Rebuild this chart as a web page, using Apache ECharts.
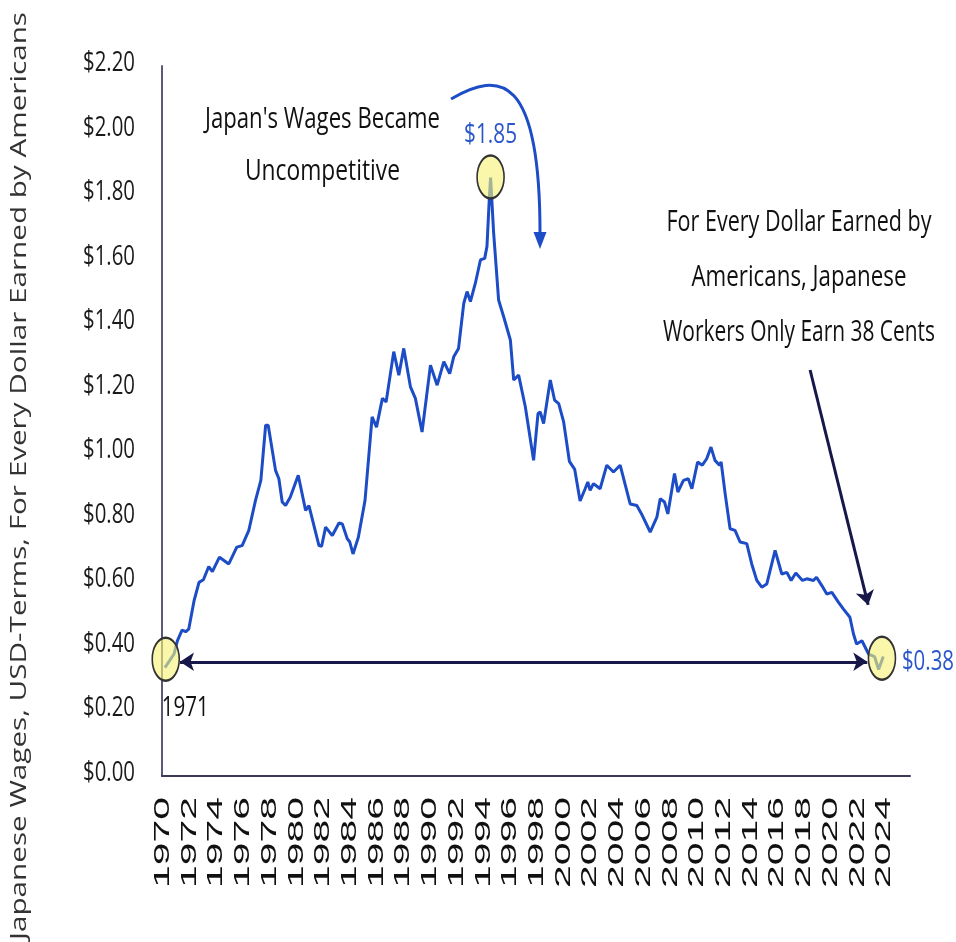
<!DOCTYPE html>
<html><head><meta charset="utf-8">
<script src="https://cdn.jsdelivr.net/npm/echarts@6/dist/echarts.min.js"></script>
<style>html,body{margin:0;padding:0;background:#fff}#c{width:956px;height:942px}</style>
</head><body><div id="c"></div>
<script>
// ---- data (decimal year, USD earned per US dollar) ----
const years = [
 1970.22,1970.9,1971.15,1971.5,1971.77,1972.0,1972.4,1972.77,1973.1,1973.5,
 1973.77,1974.3,1975.0,1975.6,1976.0,1976.5,1977.0,1977.4,1977.76,1977.95,
 1978.5,1978.75,1979.0,1979.25,1979.6,1980.2,1980.75,1981.0,1981.75,1981.95,
 1982.25,1982.75,1983.25,1983.5,1983.87,1984.06,1984.3,1984.7,1985.2,1985.73,
 1986.06,1986.5,1986.78,1987.35,1987.73,1988.1,1988.6,1988.97,1989.47,1990.1,
 1990.6,1991.1,1991.54,1991.84,1992.2,1992.59,1992.84,1993.09,1993.46,1993.84,
 1994.16,1994.33,1994.5,1994.6,1994.83,1995.2,1995.58,1996.08,1996.33,1996.7,
 1997.2,1997.82,1998.15,1998.32,1998.57,1999.07,1999.39,1999.7,2000.07,2000.5,
 2000.9,2001.3,2001.68,2001.88,2002.05,2002.3,2002.8,2003.3,2003.8,2004.3,
 2005.05,2005.55,2005.9,2006.55,2007.05,2007.3,2007.62,2007.87,2008.37,2008.62,
 2009.04,2009.4,2009.67,2010.1,2010.45,2010.78,2011.1,2011.4,2011.74,2011.86,
 2012.16,2012.53,2012.9,2013.28,2013.78,2014.15,2014.53,2014.9,2015.28,2015.9,
 2016.4,2016.78,2017.1,2017.45,2017.95,2018.27,2018.77,2019.0,2019.4,2019.77,
 2020.15,2020.65,2021.02,2021.5,2021.77,2022.0,2022.4,2022.9,2023.35,2023.65,
 2024.0
];
const wages = [
 0.336,0.378,0.419,0.452,0.447,0.455,0.543,0.600,0.608,0.649,
 0.633,0.678,0.657,0.709,0.714,0.761,0.854,0.916,1.087,1.087,
 0.947,0.921,0.849,0.838,0.864,0.932,0.823,0.838,0.714,0.712,
 0.771,0.745,0.784,0.781,0.735,0.725,0.688,0.740,0.854,1.113,
 1.081,1.170,1.159,1.315,1.242,1.325,1.206,1.170,1.066,1.273,
 1.211,1.284,1.247,1.299,1.325,1.464,1.501,1.470,1.527,1.599,
 1.604,1.641,1.786,1.854,1.682,1.475,1.423,1.351,1.227,1.242,
 1.144,0.978,1.123,1.128,1.092,1.227,1.165,1.154,1.097,0.975,
 0.950,0.852,0.890,0.911,0.885,0.906,0.890,0.963,0.942,0.963,
 0.843,0.838,0.812,0.756,0.802,0.859,0.849,0.812,0.937,0.880,
 0.916,0.921,0.890,0.973,0.963,0.983,1.019,0.978,0.963,0.973,
 0.875,0.766,0.761,0.725,0.720,0.657,0.606,0.585,0.595,0.699,
 0.626,0.631,0.606,0.629,0.606,0.611,0.606,0.616,0.590,0.564,
 0.569,0.538,0.517,0.492,0.440,0.409,0.419,0.378,0.370,0.330,
 0.370
];
const xTickValues = [1970,1972,1974,1976,1978,1980,1982,1984,1986,1988,1990,1992,1994,1996,1998,2000,2002,2004,2006,2008,2010,2012,2014,2016,2018,2020,2022,2024];
const xTickLabels = ['1970','1972','1974','1976','1978','1980','1982','1984','1986','1988','1990','1992','1994','1996','1998','2000','2002','2004','2006','2008','2010','2012','2014','2016','2018','2020','2022','2024'];
const yTickValues = [0,0.2,0.4,0.6,0.8,1.0,1.2,1.4,1.6,1.8,2.0,2.2];
const yTickLabels = ['$0.00','$0.20','$0.40','$0.60','$0.80','$1.00','$1.20','$1.40','$1.60','$1.80','$2.00','$2.20'];
const yAxisTitle = 'Japanese Wages, USD-Terms, For Every Dollar Earned by Americans';
const highlightPoints = [[1970.28,0.362],[1994.6,1.856],[2023.9,0.365]];
const peakLabel = '$1.85';
const latestLabel = '$0.38';
const startLabel = '1971';
const noteLeft = ["Japan's Wages Became", 'Uncompetitive'];
const noteRight = ['For Every Dollar Earned by', 'Americans, Japanese', 'Workers Only Earn 38 Cents'];

// ---- chart ----
const chart = echarts.init(document.getElementById('c'), null, {renderer:'canvas'});
const seriesData = years.map((y, i) => [y, wages[i]]);
const BLUE = '#1c4cc6';
const NAVY = '#17174a';

chart.setOption({
  animation: false,
  backgroundColor: '#ffffff',
  grid: {left: 162, right: 46, top: 66, bottom: 166},
  xAxis: {type: 'value', min: 1970, max: 2026, interval: 2,
    axisLine: {show: true, onZero: false, lineStyle: {color: '#3a3a55', width: 2}},
    axisTick: {show: false}, axisLabel: {show: false}, splitLine: {show: false}},
  yAxis: {type: 'value', min: 0, max: 2.2, interval: 0.2,
    axisLine: {show: true, lineStyle: {color: '#5a5a78', width: 2}},
    axisTick: {show: false}, axisLabel: {show: false}, splitLine: {show: false}},
  series: [{
    type: 'line', data: seriesData, showSymbol: false, symbol: 'none',
    lineStyle: {color: BLUE, width: 3}, z: 3,
    markLine: {
      silent: true, animation: false, label: {show: false}, symbolSize: 14,
      lineStyle: {color: NAVY, width: 3, type: 'solid'},
      emphasis: {disabled: true},
      data: [
        [{coord: [1971.35, 0.354], symbol: 'arrow'}, {coord: [2022.8, 0.354], symbol: 'arrow'}],
        [{coord: [2018.52, 1.258], symbol: 'none'}, {coord: [2022.87, 0.53], symbol: 'arrow'}]
      ]
    },
    markPoint: {
      silent: true, animation: false, symbol: 'circle', symbolSize: [27, 43],
      label: {show: false},
      itemStyle: {color: 'rgba(247,242,120,0.62)', borderColor: '#333333', borderWidth: 2},
      data: highlightPoints.map(p => ({coord: p}))
    }
  }]
});

// ---- text / annotation graphics placed via axis scales ----
const cv = document.createElement('canvas').getContext('2d');
const SANS = '"Open Sans", "Noto Sans", "DejaVu Sans", sans-serif';
const ARIAL = '"Liberation Sans", Arial, "DejaVu Sans", sans-serif';
function T(text, x, y, o) {
  const fam = o.family || SANS;
  const weight = o.weight || 'normal';
  let sx = 1;
  if (o.width) { cv.font = weight + ' ' + o.size + 'px ' + fam; sx = o.width / cv.measureText(text).width; }
  return {type: 'text', x: x, y: y, rotation: o.rot || 0, scaleX: sx, scaleY: 1, z: 100, silent: true,
    style: {text: text, fontSize: o.size, fontFamily: fam, fontWeight: weight, fill: o.color || '#111',
      align: o.align || 'left', verticalAlign: o.va || 'middle',
      textAlign: o.align || 'left', textVerticalAlign: o.va || 'middle'}};
}
const px = (x, y) => chart.convertToPixel({gridIndex: 0}, [x, y]);
const g = [];
const origin = px(1970, 0);
yTickValues.forEach((v, i) => {
  const p = px(1970, v);
  g.push(T(yTickLabels[i], origin[0] - 27, p[1] - 3, {size: 28, width: 52, align: 'right', color: '#1a1a1a'}));
});
xTickValues.forEach((v, i) => {
  const p = px(v, 0);
  g.push(T(xTickLabels[i], p[0] + 1, origin[1] + 21, {size: 22, width: 91, family: ARIAL, rot: Math.PI / 2, align: 'right', color: '#111'}));
});
g.push(T(yAxisTitle, 20, 476, {size: 21, width: 928, rot: Math.PI / 2, align: 'center', color: '#333'}));

const pk = px(highlightPoints[1][0], highlightPoints[1][1]);
g.push(T(peakLabel, pk[0], pk[1] - 42, {size: 28, width: 53, align: 'center', color: '#2a56cc'}));
const lt = px(highlightPoints[2][0], highlightPoints[2][1]);
g.push(T(latestLabel, lt[0] + 20, lt[1] + 4, {size: 28, width: 52, align: 'left', color: '#2a56cc'}));
const st = px(highlightPoints[0][0], highlightPoints[0][1]);
g.push(T(startLabel, st[0] - 4, st[1] + 49, {size: 28, width: 47, align: 'left', color: '#111'}));

const lw = [235, 155];
noteLeft.forEach((s, i) => g.push(T(s, 322.5, 120 + i * 52, {size: 29, width: lw[i], align: 'center', color: '#111'})));
const rw = [265, 215, 272];
noteRight.forEach((s, i) => g.push(T(s, 799, 222 + i * 55, {size: 30, width: rw[i], align: 'center', color: '#111'})));

// curved blue arrow (data-space anchors)
const c0 = px(1991.64, 2.098), c1 = px(1995.31, 2.188), c2 = px(1998.30, 2.172), c3 = px(1998.30, 1.683), tip = px(1998.30, 1.633);
g.push({type: 'bezierCurve', z: 100, silent: true,
  shape: {x1: c0[0], y1: c0[1], cpx1: c1[0], cpy1: c1[1], cpx2: c2[0], cpy2: c2[1], x2: c3[0], y2: c3[1]},
  style: {stroke: BLUE, lineWidth: 3, fill: null}});
g.push({type: 'polygon', z: 100, silent: true,
  shape: {points: [[tip[0] - 6.5, tip[1] - 17], [tip[0] + 6.5, tip[1] - 17], [tip[0], tip[1]]]},
  style: {fill: BLUE}});

chart.setOption({graphic: {elements: g}});
</script></body></html>
